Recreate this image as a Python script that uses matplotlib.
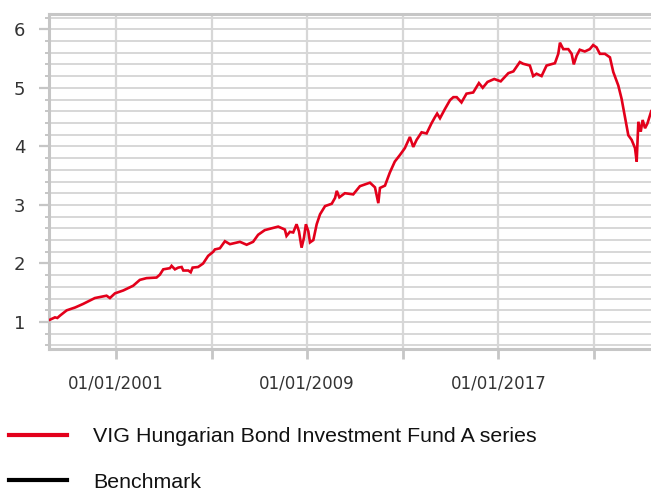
import matplotlib
matplotlib.use("Agg")
import matplotlib.pyplot as plt
from matplotlib.lines import Line2D
from matplotlib.ticker import MultipleLocator
import pandas as pd

# Decimal-year time stamps and fund values
years = [
    1998.24, 1998.45, 1998.55, 1998.66, 1998.94, 1999.30, 1999.63, 2000.12, 2000.61,
    2000.75, 2000.96, 2001.31, 2001.72, 2002.00, 2002.28, 2002.70, 2002.84, 2002.98,
    2003.26, 2003.33, 2003.47, 2003.61, 2003.75, 2003.82, 2004.03, 2004.13, 2004.21,
    2004.44, 2004.65, 2004.86, 2005.07, 2005.14, 2005.35, 2005.56, 2005.77, 2006.19,
    2006.47, 2006.74, 2006.95, 2007.23, 2007.51, 2007.79, 2008.07, 2008.14, 2008.28,
    2008.42, 2008.56, 2008.66, 2008.77, 2008.87, 2008.95, 2009.05, 2009.12, 2009.26,
    2009.40, 2009.54, 2009.75, 2010.03, 2010.17, 2010.24, 2010.35, 2010.58, 2010.93,
    2011.21, 2011.63, 2011.84, 2011.98, 2012.05, 2012.26, 2012.46, 2012.67, 2012.88,
    2013.09, 2013.30, 2013.44, 2013.58, 2013.79, 2014.00, 2014.20, 2014.35, 2014.44,
    2014.56, 2014.77, 2014.98, 2015.12, 2015.26, 2015.46, 2015.67, 2015.95, 2016.19,
    2016.35, 2016.55, 2016.83, 2017.10, 2017.42, 2017.63, 2017.90, 2018.04, 2018.32,
    2018.46, 2018.60, 2018.81, 2019.02, 2019.37, 2019.51, 2019.58, 2019.72, 2019.93,
    2020.07, 2020.16, 2020.28, 2020.41, 2020.62, 2020.83, 2020.97, 2021.11, 2021.25,
    2021.46, 2021.67, 2021.81, 2022.02, 2022.16, 2022.30, 2022.44, 2022.58, 2022.72,
    2022.79, 2022.86, 2022.96, 2023.04, 2023.14, 2023.24, 2023.40,
]
fund_values = [
    1.04, 1.08, 1.07, 1.11, 1.20, 1.25, 1.31, 1.41, 1.45,
    1.41, 1.49, 1.54, 1.62, 1.72, 1.75, 1.76, 1.81, 1.90,
    1.92, 1.96, 1.90, 1.93, 1.94, 1.88, 1.88, 1.85, 1.93,
    1.94, 2.00, 2.13, 2.20, 2.24, 2.26, 2.38, 2.33, 2.37,
    2.32, 2.37, 2.49, 2.57, 2.60, 2.63, 2.58, 2.47, 2.54,
    2.53, 2.67, 2.55, 2.27, 2.44, 2.67, 2.55, 2.36, 2.40,
    2.67, 2.84, 2.98, 3.02, 3.12, 3.24, 3.13, 3.20, 3.18,
    3.32, 3.38, 3.30, 3.03, 3.29, 3.33, 3.55, 3.74, 3.85,
    3.97, 4.16, 3.99, 4.11, 4.24, 4.22, 4.39, 4.50, 4.56,
    4.48, 4.64, 4.79, 4.84, 4.84, 4.75, 4.90, 4.92, 5.08,
    5.00, 5.10, 5.15, 5.11, 5.25, 5.28, 5.44, 5.41, 5.38,
    5.20, 5.24, 5.20, 5.38, 5.42, 5.58, 5.77, 5.66, 5.66,
    5.58, 5.40, 5.55, 5.65, 5.62, 5.66, 5.73, 5.69, 5.58,
    5.58, 5.52, 5.27, 5.04, 4.81, 4.50, 4.19, 4.11, 3.97,
    3.74, 4.42, 4.25, 4.45, 4.31, 4.39, 4.60,
]
series_labels = ["VIG Hungarian Bond Investment Fund A series", "Benchmark"]
tick_years = [2001, 2005, 2009, 2013, 2017, 2021]
labelled_years = [2001, 2009, 2017]
x_range = (1998.2, 2023.39)
y_range = (0.54, 6.26)


def to_date(y):
    yr = int(y)
    return pd.Timestamp(yr, 1, 1) + pd.Timedelta(days=(y - yr) * 365.25)


dates = [to_date(y) for y in years]

RED = "#e3001b"
GRID = "#d7d7d7"
SPINE = "#c6c6c6"
TEXT = "#333333"

fig = plt.figure(figsize=(6.51, 4.91), dpi=100)
ax = fig.add_axes([49 / 651, 1 - 349 / 491, 1 - 49 / 651, (349 - 14) / 491])

line, = ax.plot(dates, fund_values, color=RED, lw=1.9, solid_joinstyle="miter", zorder=3)

ax.set_xlim(to_date(x_range[0]), to_date(x_range[1]))
ax.set_ylim(*y_range)

tick_dates = [pd.Timestamp(y, 1, 1) for y in tick_years]
ax.set_xticks(tick_dates)
ax.set_xticklabels([f"01/01/{y}" if y in labelled_years else "" for y in tick_years])

ax.yaxis.set_major_locator(MultipleLocator(1))
ax.yaxis.set_minor_locator(MultipleLocator(0.2))
ax.set_yticks([1, 2, 3, 4, 5, 6])

ax.grid(True, which="both", axis="y", color=GRID, lw=1.4, zorder=0)
ax.grid(True, which="major", axis="x", color=GRID, lw=1.6, zorder=0)
ax.set_axisbelow(True)

for s in ["left", "top", "bottom"]:
    ax.spines[s].set_color(SPINE)
    ax.spines[s].set_linewidth(2.2)
ax.spines["right"].set_visible(False)

ax.tick_params(axis="y", which="major", length=7.5, width=1.6, color=SPINE,
               labelsize=13, labelcolor=TEXT, pad=9.5)
ax.tick_params(axis="y", which="minor", length=3, width=1.4, color=SPINE)
ax.tick_params(axis="x", which="major", length=7, width=2, color=SPINE,
               labelsize=12, labelcolor=TEXT, pad=11)

bench_handle = Line2D([], [], color="black", lw=3)
red_handle = Line2D([], [], color=RED, lw=3)
leg = fig.legend([red_handle, bench_handle], series_labels,
                 loc="upper left", bbox_to_anchor=(5 / 651, 1 - 423 / 491),
                 frameon=False, prop={"family": "Liberation Sans", "size": 15.4},
                 handlelength=2.7, handletextpad=1.22, labelspacing=1.24,
                 borderaxespad=0, borderpad=0.2)
for t in leg.get_texts():
    t.set_color("#111111")

fig.savefig("out.png", dpi=100)
